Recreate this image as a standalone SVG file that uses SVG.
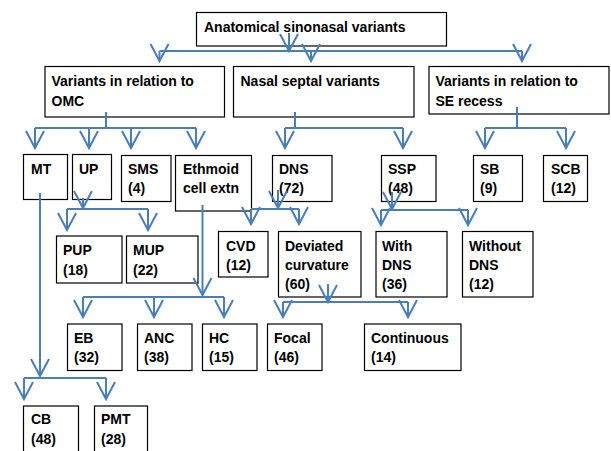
<svg xmlns="http://www.w3.org/2000/svg" width="611" height="451" viewBox="0 0 611 451">
<defs>
<style>
.box{fill:#fff;stroke:#000;stroke-width:1.2}
text{font-family:"Liberation Sans",Arial,sans-serif;font-weight:bold;font-size:14px;fill:#000}
.c{fill:none;stroke:#4A7EBB;stroke-width:2}
.a{marker-end:url(#v)}
</style>
<marker id="v" markerUnits="userSpaceOnUse" orient="auto" refX="0" refY="0" markerWidth="20" markerHeight="20" overflow="visible">
<path d="M-17,-9 L0,0 L-17,9" fill="none" stroke="#4A7EBB" stroke-width="2"/>
</marker>
</defs>
<rect width="611" height="451" fill="#fff"/>

<g id="root"><rect class="box" x="196.5" y="12.5" width="250" height="33.5"/><text x="204" y="31.5">Anatomical sinonasal variants</text></g>

<g id="omc"><rect class="box" x="45" y="66.5" width="179.5" height="50.5"/><text x="51.5" y="86">Variants in relation to</text><text x="51.5" y="106">OMC</text></g>
<g id="septal"><rect class="box" x="233.5" y="66.5" width="180.5" height="50.5"/><text x="240.5" y="86">Nasal septal variants</text></g>
<g id="se"><rect class="box" x="429" y="66.5" width="180" height="47.5"/><text x="435.5" y="86">Variants in relation to</text><text x="435.5" y="106">SE recess</text></g>

<g id="mt"><rect class="box" x="23.5" y="154.5" width="44" height="45"/><text x="31" y="173.5">MT</text></g>
<g id="up"><rect class="box" x="72.5" y="154.5" width="39" height="45"/><text x="79" y="173.5">UP</text></g>
<g id="sms"><rect class="box" x="121.5" y="155.5" width="49.5" height="46"/><text x="128" y="173.5">SMS</text><text x="128" y="193">(4)</text></g>
<g id="ethmoid"><rect class="box" x="175.5" y="155.5" width="76" height="55.5"/><text x="183" y="173.5">Ethmoid</text><text x="183" y="193">cell extn</text></g>
<g id="dns"><rect class="box" x="272.5" y="155.5" width="59.5" height="46"/><text x="279" y="173.5">DNS</text><text x="279" y="193">(72)</text></g>
<g id="ssp"><rect class="box" x="381.5" y="155.5" width="54.5" height="46"/><text x="388" y="173.5">SSP</text><text x="388" y="193">(48)</text></g>
<g id="sb"><rect class="box" x="473.5" y="155.5" width="49" height="46"/><text x="480" y="173.5">SB</text><text x="480" y="193">(9)</text></g>
<g id="scb"><rect class="box" x="543.5" y="155.5" width="44" height="46"/><text x="551" y="173.5">SCB</text><text x="551" y="193">(12)</text></g>

<g id="pup"><rect class="box" x="56.5" y="236" width="65.5" height="47"/><text x="63" y="255">PUP</text><text x="63" y="275">(18)</text></g>
<g id="mup"><rect class="box" x="126.5" y="236" width="71.5" height="47"/><text x="133" y="255">MUP</text><text x="133" y="275">(22)</text></g>
<g id="cvd"><rect class="box" x="218.5" y="231.5" width="49.5" height="45.5"/><text x="226" y="250.5">CVD</text><text x="226" y="269.5">(12)</text></g>
<g id="deviated"><rect class="box" x="278.5" y="231.5" width="82.5" height="65.5"/><text x="285" y="250.5">Deviated</text><text x="285" y="269.5">curvature</text><text x="285" y="288.5">(60)</text></g>
<g id="withdns"><rect class="box" x="376" y="231.5" width="71" height="65.5"/><text x="382" y="250.5">With</text><text x="382" y="269.5">DNS</text><text x="382" y="288.5">(36)</text></g>
<g id="withoutdns"><rect class="box" x="462.5" y="231.5" width="70.5" height="65.5"/><text x="469" y="250.5">Without</text><text x="469" y="269.5">DNS</text><text x="469" y="288.5">(12)</text></g>

<g id="eb"><rect class="box" x="67.5" y="324" width="54.5" height="46.5"/><text x="74" y="342.5">EB</text><text x="74" y="362">(32)</text></g>
<g id="anc"><rect class="box" x="137.5" y="324" width="54.5" height="46.5"/><text x="144" y="342.5">ANC</text><text x="144" y="362">(38)</text></g>
<g id="hc"><rect class="box" x="202.5" y="324" width="54.5" height="46.5"/><text x="209" y="342.5">HC</text><text x="209" y="362">(15)</text></g>
<g id="focal"><rect class="box" x="267.5" y="324" width="54.5" height="46.5"/><text x="274" y="342.5">Focal</text><text x="274" y="362">(46)</text></g>
<g id="continuous"><rect class="box" x="364.5" y="324" width="96.5" height="46.5"/><text x="371" y="342.5">Continuous</text><text x="371" y="362">(14)</text></g>

<g id="cb"><rect class="box" x="23.5" y="406" width="55" height="60"/><text x="31" y="424">CB</text><text x="31" y="443.5">(48)</text></g>
<g id="pmt"><rect class="box" x="94.5" y="406" width="53" height="60"/><text x="101" y="424">PMT</text><text x="101" y="443.5">(28)</text></g>

<g id="connectors" class="c">
<path class="a" d="M289,33 V51"/>
<path d="M159.5,51 H522"/>
<path class="a" d="M159.5,51 V61"/><path class="a" d="M311,51 V61"/><path class="a" d="M522,51 V61"/>

<path d="M106,112 V128 M35,128 H196"/>
<path class="a" d="M35,128 V148"/><path class="a" d="M89,128 V148"/><path class="a" d="M131,128 V148"/><path class="a" d="M196,128 V148"/>
<path d="M295,112 V128 M285,128 H403"/>
<path class="a" d="M285,128 V148"/><path class="a" d="M403,128 V148"/>
<path d="M517,107 V128 M485,128 H566"/>
<path class="a" d="M485,128 V148"/><path class="a" d="M566,128 V148"/>

<path class="a" d="M83,198 V208"/>
<path d="M67,209 H148"/>
<path class="a" d="M67,209 V230"/><path class="a" d="M148,209 V230"/>

<path class="a" d="M40,193 V376"/>
<path d="M24,378 H106"/>
<path class="a" d="M24,378 V399"/><path class="a" d="M106,378 V399"/>

<path class="a" d="M202.5,205 V295"/>
<path d="M83,297 H224"/>
<path class="a" d="M83,297 V317"/><path class="a" d="M154,297 V317"/><path class="a" d="M224,297 V317"/>

<path class="a" d="M278,190 V208"/>
<path d="M251,209 H299"/>
<path class="a" d="M251,209 V224"/><path class="a" d="M299,209 V224"/>

<path class="a" d="M392,192 V209"/>
<path d="M381,210 H468"/>
<path class="a" d="M381,210 V225"/><path class="a" d="M468,210 V225"/>

<path class="a" d="M328,284 V302"/>
<path d="M283,302 H408"/>
<path class="a" d="M283,302 V317"/><path class="a" d="M408,302 V317"/>
</g>
</svg>
